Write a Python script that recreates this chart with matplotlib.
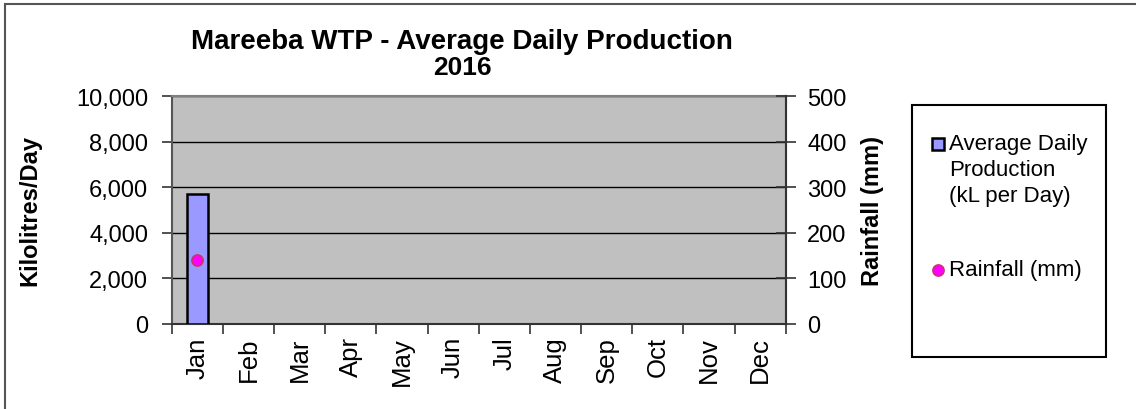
import matplotlib
matplotlib.use("Agg")
import matplotlib.pyplot as plt
from matplotlib.lines import Line2D
from matplotlib.patches import Rectangle

plt.rcParams['font.family'] = ['Liberation Sans', 'DejaVu Sans']

months = ["Jan", "Feb", "Mar", "Apr", "May", "Jun",
          "Jul", "Aug", "Sep", "Oct", "Nov", "Dec"]
production = [5690]          # kL per day, only Jan reported
rainfall = [140]             # mm, only Jan reported
prod_label = "Average Daily\nProduction\n(kL per Day)"
rain_label = "Rainfall (mm)"

W, H = 1136, 410


def fx(px):
    return px / W


def fy(py):
    return 1 - py / H


def main():
    fig = plt.figure(figsize=(W / 100, H / 100), dpi=100)

    # outer chart border (top and left visible)
    fig.add_artist(Rectangle((fx(5), fy(420)), fx(1200), fy(5) - fy(420),
                             transform=fig.transFigure, fill=False,
                             edgecolor="#555555", linewidth=1.5))

    left, right, top, bottom = 171.7, 785.7, 97.3, 324.7
    ax = fig.add_axes([fx(left), fy(bottom), fx(right - left),
                       fy(top) - fy(bottom)])
    ax.set_facecolor("#C0C0C0")

    x = list(range(len(production)))
    ax.bar(x, production, width=0.42, color="#9999FF", edgecolor="black",
           linewidth=1.8, zorder=3)

    ax.set_xlim(-0.5, 11.5)
    ax.set_ylim(0, 10000)
    ax.set_yticks(range(0, 10001, 2000))
    ax.set_yticklabels([f"{v:,}" for v in range(0, 10001, 2000)])
    ax.grid(axis="y", color="black", linewidth=1, zorder=1)
    ax.set_axisbelow(True)

    ax.set_xticks(range(12))
    ax.set_xticklabels(months, rotation=90, fontsize=18.5)
    ax.set_xticks([i - 0.5 for i in range(13)], minor=True)
    ax.tick_params(axis="x", which="major", length=0, pad=9)
    ax.tick_params(axis="x", which="minor", length=7, width=1.2,
                   direction="out", color="#333333")
    ax.tick_params(axis="y", length=7, width=1.2, direction="out",
                   color="#333333", labelsize=17, pad=10)

    for s in ax.spines.values():
        s.set_color("#808080")
        s.set_linewidth(1.5)
    ax.spines["bottom"].set_color("#333333")
    ax.spines["left"].set_color("#555555")

    ax2 = ax.twinx()
    ax2.set_ylim(0, 500)
    ax2.set_yticks(range(0, 501, 100))
    ax2.plot(x, rainfall, linestyle="none", marker="o", markersize=8,
             markerfacecolor="#FF00FF", markeredgecolor="#CC3366",
             markeredgewidth=1.2, zorder=5)
    ax2.tick_params(axis="y", length=15, width=1.2, direction="inout",
                    color="#333333", labelsize=17, pad=8)
    ax2.spines["right"].set_color("#333333")
    ax2.spines["right"].set_linewidth(1.5)
    for s in ["top", "left", "bottom"]:
        ax2.spines[s].set_visible(False)

    fig.text(fx(30), fy(211), "Kilolitres/Day", rotation=90, fontsize=17,
             fontweight="bold", ha="center", va="center")
    fig.text(fx(873), fy(211), "Rainfall (mm)", rotation=90, fontsize=17,
             fontweight="bold", ha="center", va="center")

    fig.text(fx(462), fy(42), "Mareeba WTP - Average Daily Production",
             fontsize=20, fontweight="bold", ha="center", va="center")
    fig.text(fx(462), fy(68), "2016", fontsize=19, fontweight="bold",
             ha="center", va="center")

    # legend box
    fig.add_artist(Rectangle((fx(911.7), fy(358)), fx(1106.3 - 911.7),
                             fy(106) - fy(358), transform=fig.transFigure,
                             facecolor="white", edgecolor="black",
                             linewidth=1.5))
    fig.add_artist(Line2D([fx(937.7)], [fy(144.5)], transform=fig.transFigure,
                          marker="s", markersize=8.5, linestyle="none",
                          markerfacecolor="#9999FF", markeredgecolor="black",
                          markeredgewidth=1.8))
    lines = prod_label.split("\n")
    for i, line in enumerate(lines):
        fig.text(fx(949), fy(144.5 + 26 * i), line, fontsize=16,
                 ha="left", va="center")
    fig.add_artist(Line2D([fx(937.7)], [fy(270.7)], transform=fig.transFigure,
                          marker="o", markersize=8, linestyle="none",
                          markerfacecolor="#FF00FF", markeredgecolor="#CC3366",
                          markeredgewidth=1.2))
    fig.text(fx(949), fy(270.7), rain_label, fontsize=16,
             ha="left", va="center")

    fig.savefig("out.png", dpi=100)


if __name__ == "__main__":
    main()
